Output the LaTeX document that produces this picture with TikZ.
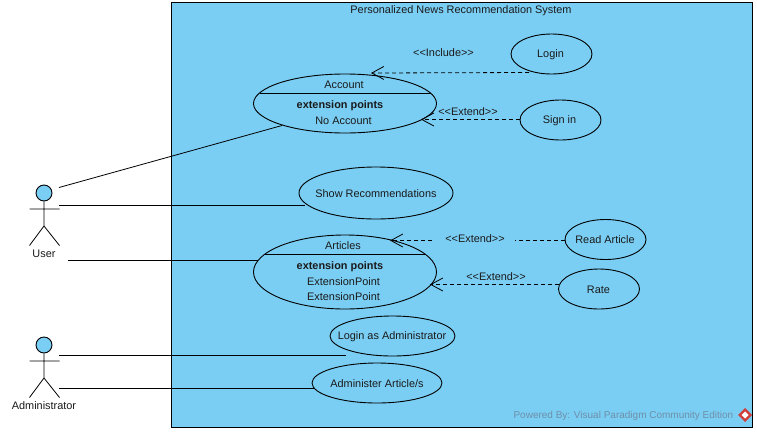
\documentclass[tikz,border=0pt]{standalone}
\usepackage{fontspec}
\setmainfont{Liberation Sans}
\usetikzlibrary{shapes.geometric,arrows.meta}
\definecolor{sysfill}{HTML}{7ACEF4}
\definecolor{wmark}{HTML}{6E8FA8}
\definecolor{inkc}{HTML}{1A1A1A}
\definecolor{logored}{HTML}{D0403A}
\tikzset{
  x=1pt,y=-1pt,
  every node/.style={font=\fontsize{10.9}{12}\selectfont,text=inkc},
  usecase/.style={draw=black,line width=0.9pt,ellipse,inner sep=0pt,align=center},
  sysbox/.style={draw=black,line width=0.9pt,fill=sysfill,rectangle,inner sep=0pt},
  head/.style={draw=black,line width=0.9pt,fill=sysfill,circle,inner sep=0pt,minimum size=16pt},
  assoc/.style={draw=black,line width=0.8pt},
  dep/.style={draw=black,line width=0.8pt,dash pattern=on 4pt off 3pt,-{Straight Barb[length=12pt,width=13pt,line width=0.8pt]}},
  lbl/.style={inner sep=0pt},
  gaplbl/.style={fill=sysfill,inner ysep=3pt,inner xsep=10pt},
  limb/.style={draw=black,line width=0.8pt},
}
\begin{document}
\begin{tikzpicture}
\useasboundingbox (0,0) rectangle (757,432);
\fill[white] (0,0) rectangle (757,432);
\node[sysbox,anchor=north west,minimum width=581pt,minimum height=425pt] (sys) at (171,2) {};
\node[lbl] (title) at (461,10.5) {Personalized News Recommendation System};

% use cases
\node[usecase,minimum width=183pt,minimum height=59pt] (account) at (345,103.5) {};
\node[usecase,minimum width=81pt,minimum height=40pt] (login) at (551.5,54) {};
\node[lbl] (logint) at (550.5,54.5) {Login};
\node[usecase,minimum width=81pt,minimum height=40pt] (signin) at (560.5,120) {};
\node[lbl] (signint) at (559.5,120.5) {Sign in};
\node[usecase,minimum width=154pt,minimum height=52pt] (show) at (376,193) {};
\node[lbl] (showt) at (376,193.5) {Show Recommendations};
\node[usecase,minimum width=183pt,minimum height=74pt] (articles) at (345,272) {};
\node[usecase,minimum width=81pt,minimum height=40pt] (read) at (605.5,239.5) {};
\node[lbl] (readt) at (605,239.5) {Read Article};
\node[usecase,minimum width=81pt,minimum height=40pt] (rate) at (599,289) {};
\node[lbl] (ratet) at (598.5,289.5) {Rate};
\node[usecase,minimum width=125pt,minimum height=40pt] (loginadm) at (392.5,336) {};
\node[lbl] (loginadmt) at (392,336.5) {Login as Administrator};
\node[usecase,minimum width=130pt,minimum height=40pt] (administer) at (377,383) {};
\node[lbl] (administert) at (377,383.5) {Administer Article/s};

% compartments
\coordinate (accL) at (259.5,93);
\coordinate (accR) at (430.5,93);
\draw[assoc] (accL) -- (accR);
\node[lbl] (acct) at (344,84.5) {Account};
\node[lbl] (acce) at (340,105.5) {\bfseries extension points};
\node[lbl] (accn) at (343.5,120.5) {No Account};
\coordinate (artL) at (265,254);
\coordinate (artR) at (425,254);
\draw[assoc] (artL) -- (artR);
\node[lbl] (artt) at (343,245.5) {Articles};
\node[lbl] (arte) at (340,266.5) {\bfseries extension points};
\node[lbl] (arta) at (343.5,281.5) {ExtensionPoint};
\node[lbl] (artb) at (343.5,296.5) {ExtensionPoint};

% actors
\node[head] (uhead) at (44,193) {};
\coordinate (uhip) at (44,226);
\coordinate (uarmL) at (29.5,209);
\coordinate (uarmR) at (59.5,209);
\coordinate (ulegL) at (29.5,245.5);
\coordinate (ulegR) at (59.5,245.5);
\draw[limb] (uhead) -- (uhip) (uarmL) -- (uarmR) (ulegL) -- (uhip) -- (ulegR);
\node[lbl] (ulabel) at (44,253.5) {User};
\node[head] (ahead) at (44,345) {};
\coordinate (ahip) at (44,378);
\coordinate (aarmL) at (29.5,361);
\coordinate (aarmR) at (59.5,361);
\coordinate (alegL) at (29.5,397.5);
\coordinate (alegR) at (59.5,397.5);
\draw[limb] (ahead) -- (ahip) (aarmL) -- (aarmR) (alegL) -- (ahip) -- (alegR);
\node[lbl] (alabel) at (44,405.5) {Administrator};

% associations
\coordinate (u1) at (59,187.5);
\coordinate (u2) at (59,205);
\coordinate (u3) at (68,260);
\coordinate (a1) at (59,355);
\coordinate (a2) at (59,388);
\coordinate (acE) at (282,125.5);
\coordinate (shE) at (304.5,205);
\coordinate (arE) at (258,260);
\coordinate (laE) at (346,355);
\coordinate (adE) at (314,388);
\draw[assoc] (u1) -- (acE);
\draw[assoc] (u2) -- (shE);
\draw[assoc] (u3) -- (arE);
\draw[assoc] (a1) -- (laE);
\draw[assoc] (a2) -- (adE);

% dependencies
\coordinate (loS) at (529,72.5);
\coordinate (acT) at (371,73);
\coordinate (siS) at (520,119.5);
\coordinate (acR) at (421,119.5);
\coordinate (reS) at (565,240.5);
\coordinate (arT) at (390,240.5);
\coordinate (raS) at (559,284.5);
\coordinate (arR) at (430,284.5);
\draw[dep] (loS) -- (acT);
\draw[dep] (siS) -- (acR);
\draw[dep] (reS) -- (arT);
\draw[dep] (raS) -- (arR);
\node[lbl] (inc) at (443.5,52.5) {<{}<Include>{}>};
\node[lbl] (ext1) at (468,111.5) {<{}<Extend>{}>};
\node[lbl,gaplbl] (ext2) at (475,238.5) {<{}<Extend>{}>};
\node[lbl] (ext3) at (496,276.5) {<{}<Extend>{}>};

% watermark
\node[lbl,text=wmark,anchor=east,font=\fontsize{10}{12}\selectfont] (wm) at (733.5,415.5) {Powered By: Visual Paradigm Community Edition};
\fill[logored] (745,408) -- (752,415) -- (745,422) -- (738,415) -- cycle;
\fill[white] (745,411.5) -- (748.5,415) -- (745,418.5) -- (741.5,415) -- cycle;
\end{tikzpicture}
\end{document}
